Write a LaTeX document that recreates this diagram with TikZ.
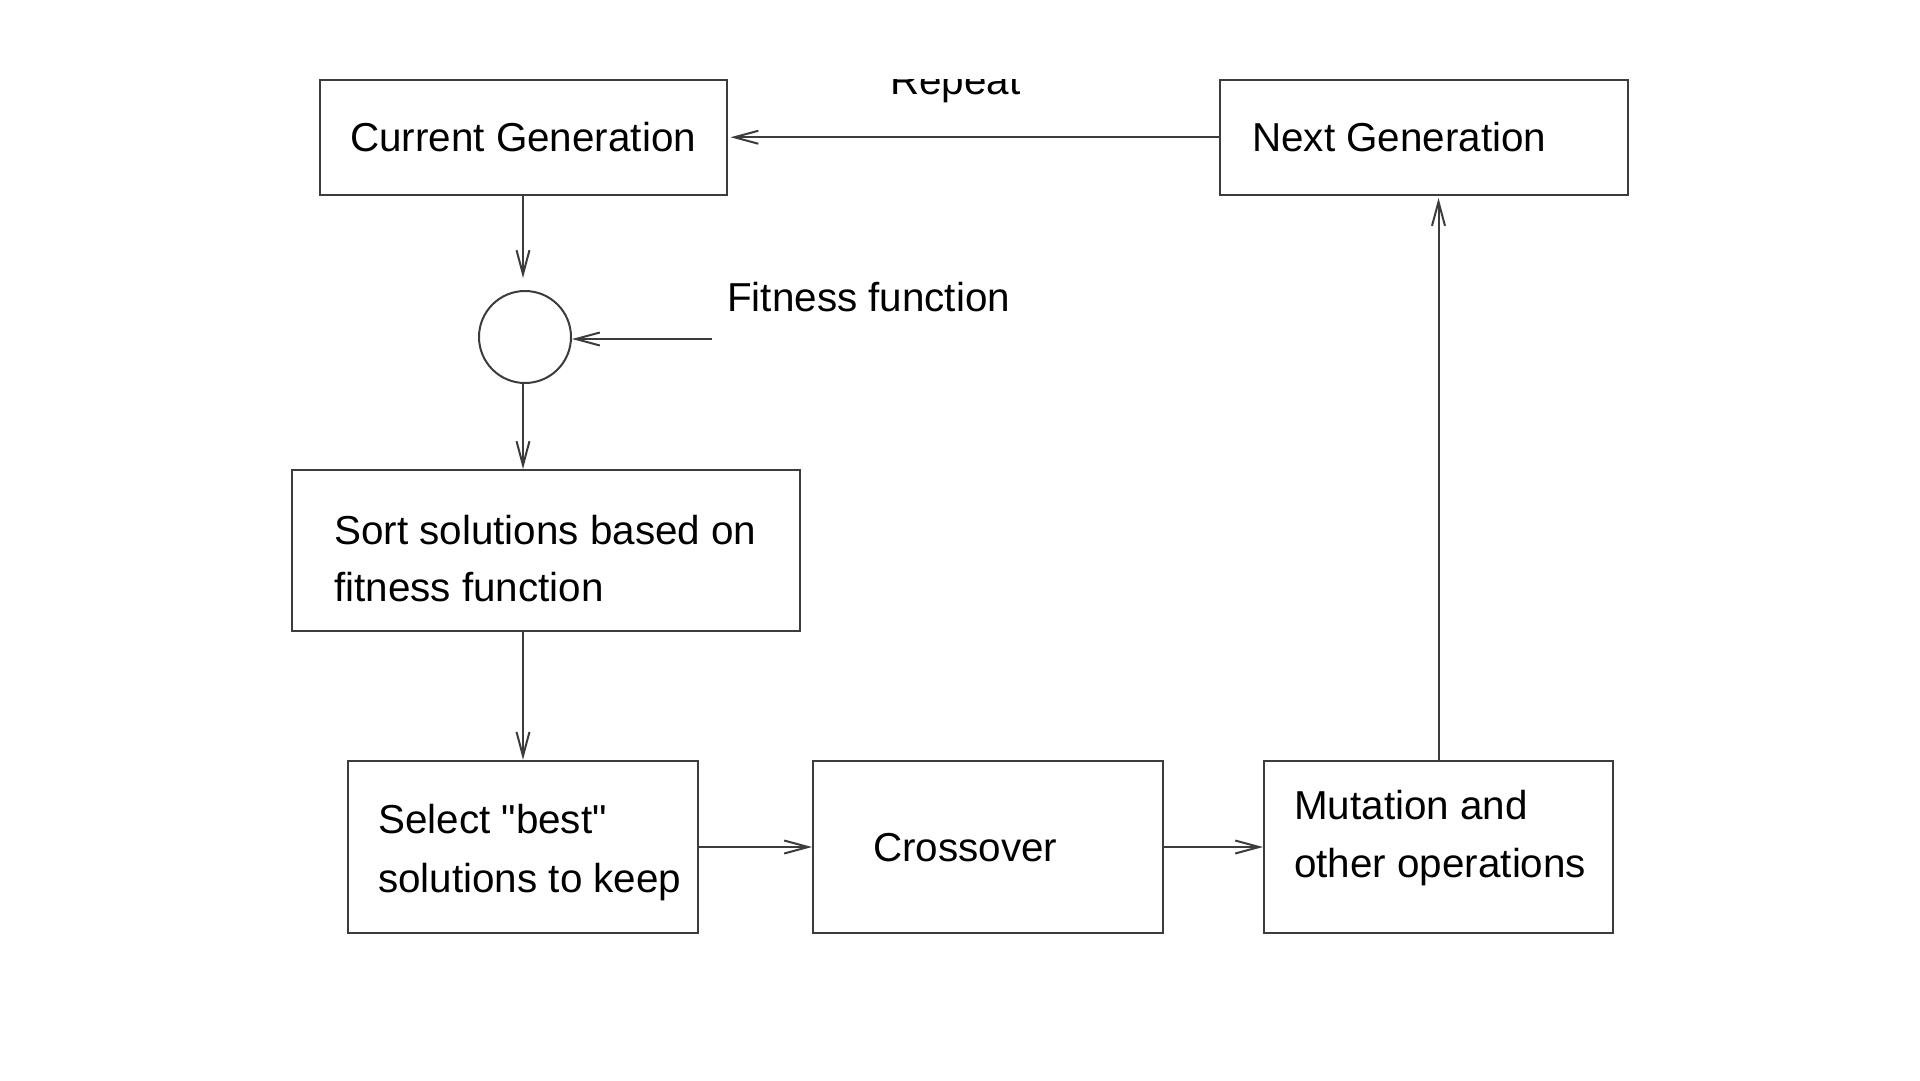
\documentclass[tikz,border=0pt]{standalone}
\usepackage{fontspec}
\setmainfont{Liberation Sans}
\usetikzlibrary{arrows.meta}
\definecolor{linec}{RGB}{60,60,60}
\begin{document}
\begin{tikzpicture}[x=1pt,y=-1pt,
  box/.style={draw=linec, line width=2pt, rectangle, inner sep=0pt},
  roundnode/.style={draw=linec, line width=2pt, circle, inner sep=0pt, minimum size=92pt},
  lbl/.style={anchor=base west, inner sep=0pt, font=\fontsize{40.4}{58}\selectfont, text=black},
  conn/.style={draw=linec, line width=2pt, -{Straight Barb[length=24pt,width=13pt,line width=2pt]}}]
\useasboundingbox[fill=white] (0,0) rectangle (1920,1080);
\begin{scope}
\clip (0,79.5) rectangle (1920,1080);
% boxes
\node[box, minimum width=407pt, minimum height=115.5pt] (cur) at (523,137.25) {};
\node[box, minimum width=408pt, minimum height=115.5pt] (next) at (1424,137.25) {};
\node[roundnode] (circ) at (525,337) {};
\node[box, minimum width=508.5pt, minimum height=160.5pt] (sort) at (545.75,550.25) {};
\node[box, minimum width=350pt, minimum height=172.5pt] (sel) at (523,847) {};
\node[box, minimum width=349.5pt, minimum height=172.5pt] (cross) at (987.75,847) {};
\node[box, minimum width=349pt, minimum height=172.5pt] (mut) at (1438.5,847) {};
% labels
\node[lbl] (repeat) at (890,94) {Repeat};
\node[lbl] (curt) at (350,151) {Current Generation};
\node[lbl] (nextt) at (1252,151) {Next Generation};
\node[lbl] (fitt) at (727,311) {Fitness function};
\node[lbl] (sortt1) at (334,544) {Sort solutions based on};
\node[lbl] (sortt2) at (334,601) {fitness function};
\node[lbl] (selt1) at (378,833) {Select \textquotedbl best\textquotedbl};
\node[lbl] (selt2) at (378,892) {solutions to keep};
\node[lbl] (crosst) at (873,861) {Crossover};
\node[lbl] (mutt1) at (1294,819) {Mutation and};
\node[lbl] (mutt2) at (1294,877) {other operations};
% connectors
\coordinate (fitsrc) at (712,339);
\coordinate (circtop) at ([yshift=12pt]circ.north);
\coordinate (curin) at ([xshift=3pt]cur.east);
\coordinate (nextin) at ([yshift=-2pt]next.south);
\draw[conn] (next.west) -- (next.west -| curin);
\draw[conn] (cur.south) -- (cur.south |- circtop);
\draw[conn] (fitsrc) -- (fitsrc -| circ.east);
\draw[conn] (cur.south |- circ.south) -- (cur.south |- sort.north);
\draw[conn] (sel.north |- sort.south) -- (sel.north);
\draw[conn] (sel.east) -- (cross.west);
\draw[conn] (cross.east) -- (mut.west);
\draw[conn] (mut.north) -- (mut.north |- nextin);
\end{scope}
\end{tikzpicture}
\end{document}
